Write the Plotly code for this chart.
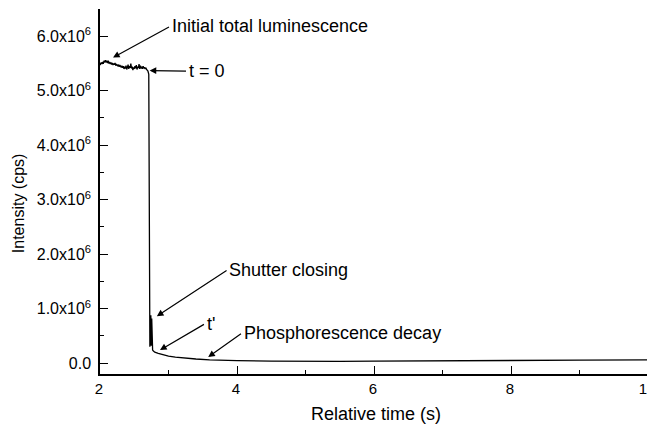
import plotly.graph_objects as go

# ---- data (intensity in units of 1e6 cps) ----
plateau_time = [round(2.00 + 0.01 * i, 2) for i in range(71)]
plateau_intensity = [
    5.47, 5.50, 5.52, 5.49, 5.53, 5.51, 5.55, 5.52, 5.56, 5.53,
    5.54, 5.51, 5.55, 5.50, 5.53, 5.49, 5.52, 5.48, 5.51, 5.47,
    5.50, 5.48, 5.51, 5.46, 5.49, 5.47, 5.45, 5.48, 5.44, 5.47,
    5.45, 5.43, 5.46, 5.42, 5.45, 5.40, 5.44, 5.41, 5.46, 5.39,
    5.43, 5.48, 5.40, 5.45, 5.42, 5.50, 5.41, 5.44, 5.38, 5.43,
    5.40, 5.45, 5.41, 5.47, 5.39, 5.44, 5.42, 5.49, 5.40, 5.46,
    5.41, 5.44, 5.40, 5.45, 5.41, 5.43, 5.40, 5.42, 5.39, 5.38,
    5.36,
]
decay_time = [2.712, 2.722, 2.728, 2.735, 2.742, 2.748, 2.755, 2.760, 2.768,
              2.78, 2.80, 2.85, 2.90, 3.0, 3.1, 3.2, 3.4, 3.6, 3.8, 4.0,
              4.5, 5.0, 5.5, 6.0, 7.0, 8.0, 9.0, 10.0]
decay_intensity = [5.30, 2.0, 0.30, 0.55, 0.88, 0.32, 0.82, 0.28, 0.24,
                   0.22, 0.20, 0.18, 0.16, 0.13, 0.11, 0.095, 0.075, 0.06, 0.05, 0.045,
                   0.035, 0.03, 0.03, 0.035, 0.045, 0.05, 0.055, 0.06]

time = plateau_time + decay_time
intensity = plateau_intensity + decay_intensity

x_ticks = [2, 4, 6, 8, 10]
y_ticks = [0, 1, 2, 3, 4, 5, 6]
y_tick_text = ["0.0", "1.0x10<sup>6</sup>", "2.0x10<sup>6</sup>", "3.0x10<sup>6</sup>",
               "4.0x10<sup>6</sup>", "5.0x10<sup>6</sup>", "6.0x10<sup>6</sup>"]

FONT = "Liberation Sans, Arial, sans-serif"

fig = go.Figure()
fig.add_trace(go.Scatter(x=time, y=intensity, mode="lines",
                         line=dict(color="black", width=1.3), hoverinfo="skip"))

axis_common = dict(showline=True, linecolor="black", linewidth=1.5, mirror=False,
                   ticks="inside", ticklen=8, tickwidth=1.3, tickcolor="black",
                   showgrid=False, zeroline=False, ticklabeloverflow="allow")

fig.update_xaxes(range=[2, 10], tickvals=x_ticks, ticktext=[str(v) for v in x_ticks],
                 minor=dict(ticks="inside", ticklen=4, tickwidth=1.2, tickcolor="black", dtick=1),
                 tickfont=dict(family=FONT, size=15, color="black"), ticklabelshift=-1,
                 **axis_common)
fig.update_yaxes(range=[-0.2, 6.5], tickvals=y_ticks, ticktext=y_tick_text,
                 minor=dict(ticks="inside", ticklen=4, tickwidth=1.2, tickcolor="black",
                            tickvals=[0.5, 1.5, 2.5, 3.5, 4.5, 5.5]),
                 ticklabelstandoff=4,
                 tickfont=dict(family=FONT, size=16, color="black"),
                 **axis_common)

afont = dict(family=FONT, size=18, color="black")
# (text, head_x, head_y, text_anchor_x, text_anchor_y)
labels = [
    ("Initial total luminescence", 2.19, 5.61, 3.02, 6.18),
    ("t = 0", 2.725, 5.37, 3.27, 5.36),
    ("Shutter closing", 2.83, 0.86, 3.86, 1.71),
    ("t'", 2.876, 0.24, 3.53, 0.72),
    ("Phosphorescence decay", 3.58, 0.11, 4.07, 0.55),
]
for txt, hx, hy, tx, ty in labels:
    fig.add_annotation(x=hx, y=hy, ax=tx, ay=ty, xref="x", yref="y", axref="x", ayref="y",
                       text=txt, showarrow=True, arrowhead=2, arrowsize=1.1, arrowwidth=1.2,
                       arrowcolor="black", standoff=0, startstandoff=1,
                       xanchor="left", yanchor="middle", font=afont)

fig.add_annotation(x=0.504, y=0, xref="paper", yref="paper", yshift=-40,
                   text="Relative time (s)", showarrow=False, xanchor="center",
                   yanchor="middle", font=dict(family=FONT, size=18, color="black"))
fig.add_annotation(x=0, y=0.468, xref="paper", yref="paper", xshift=-82,
                   text="Intensity (cps)", showarrow=False, textangle=-90,
                   xanchor="center", yanchor="middle",
                   font=dict(family=FONT, size=16, color="black"))

# page body has an 8px default margin, so the figure is 8px smaller
fig.update_layout(width=647, height=420, margin=dict(l=92, r=7, t=1, b=54),
                  paper_bgcolor="white", plot_bgcolor="white", showlegend=False)

fig.write_html("out.html")
